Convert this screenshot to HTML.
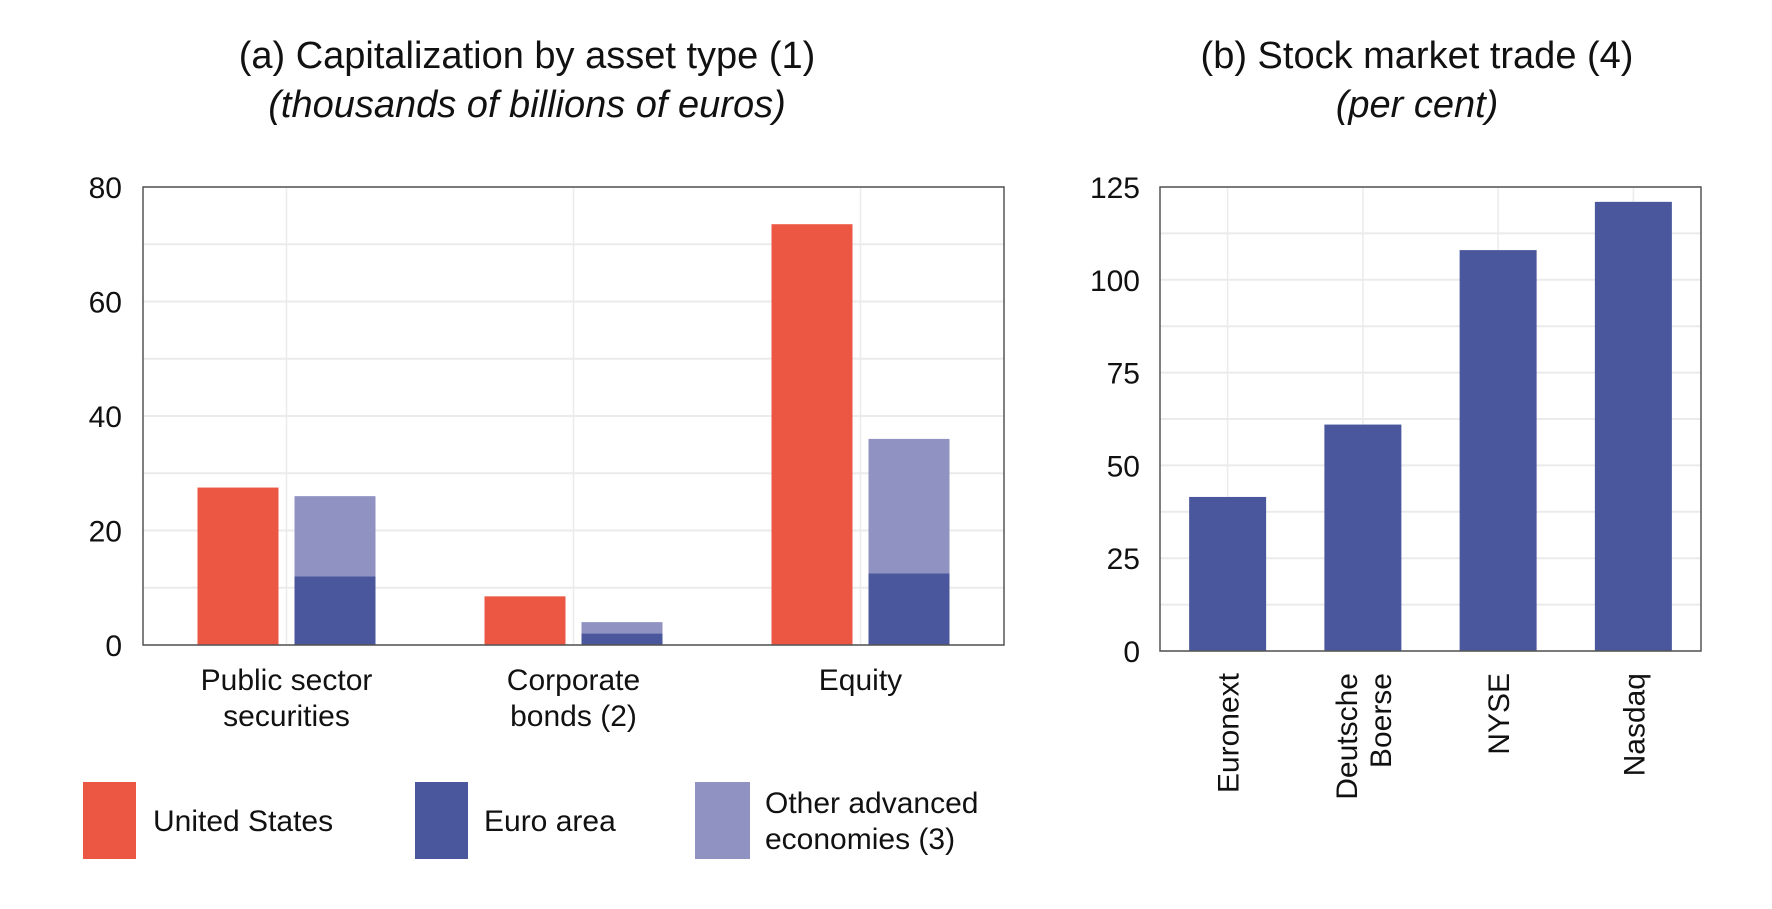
<!DOCTYPE html>
<html><head><meta charset="utf-8"><style>
body{margin:0;background:#fff;font-family:"Liberation Sans",Arial,sans-serif}
svg text{font-family:"Liberation Sans",Arial,sans-serif;fill:#111}
</style></head><body>
<svg id="c" width="1772" height="904" viewBox="0 0 1772 904" xmlns="http://www.w3.org/2000/svg">
<text x="527" y="68" font-size="38" text-anchor="middle">(a) Capitalization by asset type (1)</text>
<text x="527" y="117" font-size="38" font-style="italic" text-anchor="middle">(thousands of billions of euros)</text>
<text x="1417" y="68" font-size="38" text-anchor="middle">(b) Stock market trade (4)</text>
<text x="1417" y="117" font-size="38" font-style="italic" text-anchor="middle">(per cent)</text>
<g id="left"></g>
<g id="right"></g>
<g>
<rect x="83" y="782" width="53" height="77" fill="#EB5743"/>
<text x="153" y="831" font-size="30">United States</text>
<rect x="415" y="782" width="53" height="77" fill="#4B579C"/>
<text x="484" y="831" font-size="30">Euro area</text>
<rect x="695" y="782" width="55" height="77" fill="#9093C2"/>
<text x="765" y="813" font-size="30">Other advanced</text>
<text x="765" y="849" font-size="30">economies (3)</text>
</g>
</svg>
<script>
const leftCategories=[["Public sector","securities"],["Corporate","bonds (2)"],["Equity"]];
const usValues=[27.5,8.5,73.5];
const euroValues=[12,2,12.5];
const otherTotalValues=[26,4,36];
const leftTicks=[0,20,40,60,80];
const rightCategories=[["Euronext"],["Deutsche","Boerse"],["NYSE"],["Nasdaq"]];
const tradeValues=[41.5,61,108,121];
const rightTicks=[0,25,50,75,100,125];

const NS="http://www.w3.org/2000/svg";
function mk(parent,tag,attrs,txt){const e=document.createElementNS(NS,tag);for(const k in attrs)e.setAttribute(k,attrs[k]);if(txt!==undefined)e.textContent=txt;parent.appendChild(e);return e;}

// Left chart
(function(){
const g=document.getElementById('left');
const X0=143,X1=1004,Y0=645,Y1=187,max=80;
const y=v=>Y0-(v/max)*(Y0-Y1);
const bw=(X1-X0)/leftCategories.length;
const cx=i=>X0+bw*(i+0.5);
for(let v=0;v<=max;v+=10){const l=mk(g,'line',{x1:X0,x2:X1,y1:y(v),y2:y(v),stroke:'#ebebeb','stroke-width':2});

}
leftCategories.forEach((c,i)=>{const l=mk(g,'line',{x1:cx(i),x2:cx(i),y1:Y1,y2:Y0,stroke:'#ebebeb','stroke-width':1.5});

});
leftCategories.forEach((c,i)=>{
 const w=81,gap=16;
 const r1=mk(g,'rect',{x:cx(i)-gap/2-w,y:y(usValues[i]),width:w,height:Y0-y(usValues[i]),fill:'#EB5743'});
 
 
 const r3=mk(g,'rect',{x:cx(i)+gap/2,y:y(otherTotalValues[i]),width:w,height:y(euroValues[i])-y(otherTotalValues[i]),fill:'#9093C2'});
 
 
 const r2=mk(g,'rect',{x:cx(i)+gap/2,y:y(euroValues[i]),width:w,height:Y0-y(euroValues[i]),fill:'#4B579C'});
 
 
 c.forEach((line,j)=>{const t=mk(g,'text',{x:cx(i),y:690+j*36,'font-size':30,'text-anchor':'middle'},line);
 
 });
});
leftTicks.forEach(v=>{const t=mk(g,'text',{x:122,y:y(v)+11,'font-size':30,'text-anchor':'end'},v);

});
const b=mk(g,'rect',{x:X0,y:Y1,width:X1-X0,height:Y0-Y1,fill:'none',stroke:'#555','stroke-width':1.5});


})();

// Right chart
(function(){
const g=document.getElementById('right');
const X0=1160,X1=1701,Y0=651,Y1=187,max=125;
const y=v=>Y0-(v/max)*(Y0-Y1);
const bw=(X1-X0)/rightCategories.length;
const cx=i=>X0+bw*(i+0.5);
for(let v=0;v<=max;v+=12.5){const l=mk(g,'line',{x1:X0,x2:X1,y1:y(v),y2:y(v),stroke:'#ebebeb','stroke-width':2});

}
rightCategories.forEach((c,i)=>{const l=mk(g,'line',{x1:cx(i),x2:cx(i),y1:Y1,y2:Y0,stroke:'#ebebeb','stroke-width':1.5});

});
rightCategories.forEach((c,i)=>{
 const w=77;
 const r=mk(g,'rect',{x:cx(i)-w/2,y:y(tradeValues[i]),width:w,height:Y0-y(tradeValues[i]),fill:'#4B579C'});
 
 
 const n=c.length;
 c.forEach((line,j)=>{const xx=cx(i)+(j-(n-1)/2)*34+11;
 const t=mk(g,'text',{x:xx,y:673,'font-size':30,'text-anchor':'end',transform:`rotate(-90 ${xx} 673)`},line);
 
 });
});
rightTicks.forEach(v=>{const t=mk(g,'text',{x:1140,y:y(v)+11,'font-size':30,'text-anchor':'end'},v);

});
const b=mk(g,'rect',{x:X0,y:Y1,width:X1-X0,height:Y0-Y1,fill:'none',stroke:'#555','stroke-width':1.5});


})();
</script>
</body></html>
